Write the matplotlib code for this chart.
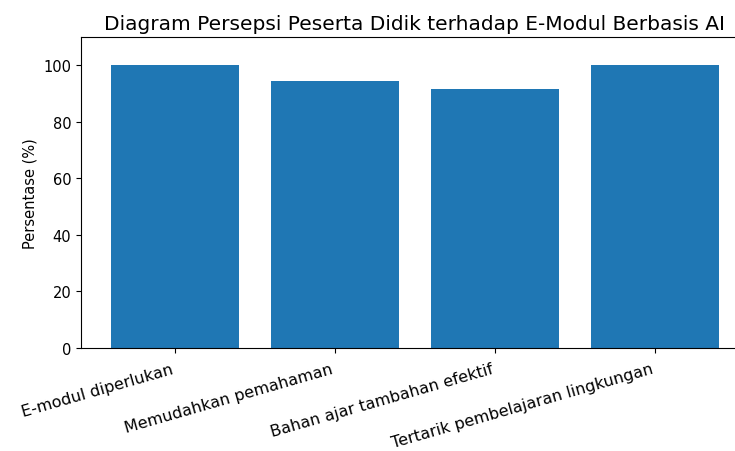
import matplotlib
matplotlib.use("Agg")
import matplotlib.pyplot as plt

# Data
kategori = ["E-modul diperlukan", "Memudahkan pemahaman",
            "Bahan ajar tambahan efektif", "Tertarik pembelajaran lingkungan"]
persentase = [100, 94.4, 91.7, 100]

fig = plt.figure(figsize=(7.35, 4.52), dpi=100)
ax = fig.add_axes([0.110, 0.228, 0.909, 0.688])

ax.bar(kategori, persentase, color="#1f77b4")
ax.set_ylim(0, 110)
ax.set_title("Diagram Persepsi Peserta Didik terhadap E-Modul Berbasis AI", fontsize=14.5)
ax.set_ylabel("Persentase (%)", fontsize=10.5)
ax.tick_params(axis="y", labelsize=10.5)
ax.tick_params(axis="x", labelsize=11.5, pad=6)
plt.setp(ax.get_xticklabels(), rotation=16, ha="right")

fig.savefig("out.png", dpi=100)
